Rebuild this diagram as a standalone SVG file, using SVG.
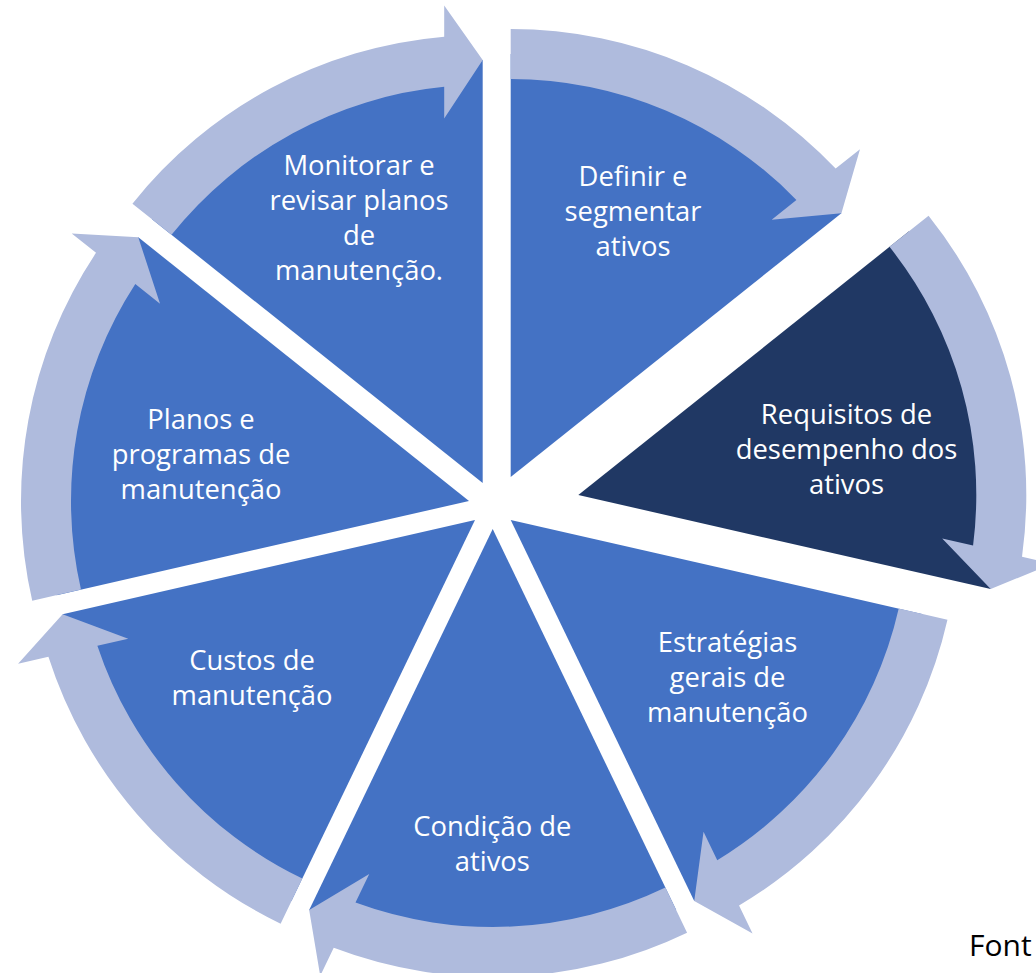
<svg xmlns="http://www.w3.org/2000/svg" width="1036" height="973" viewBox="0 0 1036 973">
  <style>
    .w { fill: #4472C4; }
    .wd { fill: #203864; }
    .arr { fill: #AFBBDD; }
    .t { font-family: "Open Sans", "Noto Sans", "Liberation Sans", sans-serif; font-size: 27.4px; fill: #FFFFFF; text-anchor: middle; }
    .src { font-family: "Open Sans", "Noto Sans", "Liberation Sans", sans-serif; font-size: 30px; fill: #000000; }
  </style>
  <defs>
    <path id="wedge" d="M0,0 L423,0 A423,423 0 0 1 263.74,330.71 Z"/>
    <path id="arrow" d="M448,0 A448,448 0 0 1 308.39,324.96 L327.79,349.28 L263.74,330.71 L257.35,260.96 L277.08,285.71 A398,398 0 0 0 398,0 Z"/>
  </defs>
  <rect width="1036" height="973" fill="#FFFFFF"/>

  <g id="node-definir">
    <use href="#wedge" class="w" transform="translate(510.7,477) rotate(-90)"/>
    <text class="t" x="633" y="185.5">Definir e</text>
    <text class="t" x="633" y="220.5">segmentar</text>
    <text class="t" x="633" y="256">ativos</text>
  </g>
  <g id="node-requisitos">
    <use href="#wedge" class="wd" transform="translate(578.3,495) rotate(-38.5714)"/>
    <text class="t" x="846.5" y="423.5">Requisitos de</text>
    <text class="t" x="846.5" y="458.5">desempenho dos</text>
    <text class="t" x="846.5" y="493.5">ativos</text>
  </g>
  <g id="node-estrategias">
    <use href="#wedge" class="w" transform="translate(510.7,520) rotate(12.8571)"/>
    <text class="t" x="727.5" y="651.5">Estratégias</text>
    <text class="t" x="727.5" y="686.5">gerais de</text>
    <text class="t" x="727.5" y="721.5">manutenção</text>
  </g>
  <g id="node-condicao">
    <use href="#wedge" class="w" transform="translate(492.7,529) rotate(64.2857)"/>
    <text class="t" x="492.3" y="835.5">Condição de</text>
    <text class="t" x="492.3" y="870.5">ativos</text>
  </g>
  <g id="node-custos">
    <use href="#wedge" class="w" transform="translate(475,520) rotate(115.7143)"/>
    <text class="t" x="252" y="669.5">Custos de</text>
    <text class="t" x="252" y="704.5">manutenção</text>
  </g>
  <g id="node-planos">
    <use href="#wedge" class="w" transform="translate(469,501) rotate(167.1429)"/>
    <text class="t" x="201" y="428.5">Planos e</text>
    <text class="t" x="201" y="463.5">programas de</text>
    <text class="t" x="201" y="498.5">manutenção</text>
  </g>
  <g id="node-monitorar">
    <use href="#wedge" class="w" transform="translate(482.7,483) rotate(218.5714)"/>
    <text class="t" x="359" y="175">Monitorar e</text>
    <text class="t" x="359" y="210">revisar planos</text>
    <text class="t" x="359" y="245">de</text>
    <text class="t" x="359" y="280">manutenção.</text>
  </g>

  <g id="connectors">
    <use href="#arrow" class="arr" transform="translate(510.7,477) rotate(-90)"/>
    <use href="#arrow" class="arr" transform="translate(578.3,495) rotate(-38.5714)"/>
    <use href="#arrow" class="arr" transform="translate(510.7,520) rotate(12.8571)"/>
    <use href="#arrow" class="arr" transform="translate(492.7,529) rotate(64.2857)"/>
    <use href="#arrow" class="arr" transform="translate(475,520) rotate(115.7143)"/>
    <use href="#arrow" class="arr" transform="translate(469,501) rotate(167.1429)"/>
    <use href="#arrow" class="arr" transform="translate(482.7,483) rotate(218.5714)"/>
  </g>

  <text id="source" class="src" x="969" y="956">Font</text>
</svg>
